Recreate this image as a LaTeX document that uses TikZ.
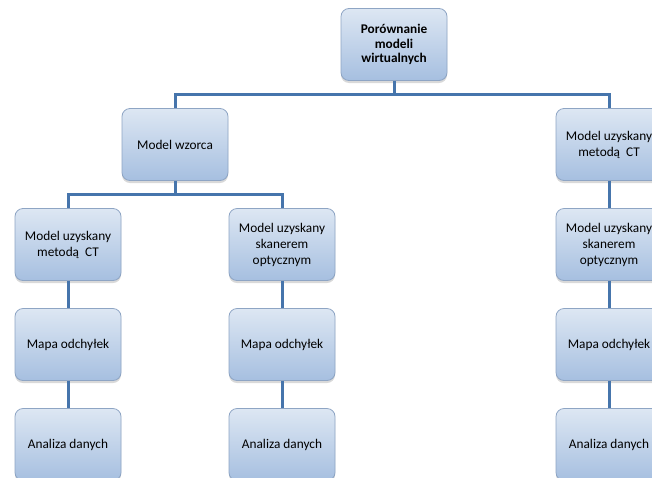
\documentclass[tikz,border=0pt]{standalone}
\usepackage{fontspec}
\setmainfont{Carlito}
\usetikzlibrary{shadows}
\definecolor{boxtop}{HTML}{DDE7F3}
\definecolor{boxbot}{HTML}{A6BFE0}
\definecolor{boxedge}{HTML}{8EA5C4}
\definecolor{linkblue}{HTML}{4675AC}
\tikzset{
  card/.style={rectangle, rounded corners=8pt, minimum width=106pt, minimum height=72pt,
    top color=boxtop, bottom color=boxbot, draw=boxedge, line width=0.8pt,
    align=center, text=black, inner sep=2pt,
    font=\fontsize{13.3}{16}\selectfont,
    drop shadow={opacity=0.3, shadow xshift=0pt, shadow yshift=-2.5pt}},
  headcard/.style={card, font=\fontsize{13.3}{14.3}\selectfont\bfseries},
  link/.style={draw=linkblue, line width=3pt}
}
\begin{document}
\begin{tikzpicture}[x=1pt, y=-1pt]
  \useasboundingbox (0,0) rectangle (652,477);
  % boxes
  \node[headcard] (top) at (394,44.5) {Porównanie\\modeli\\wirtualnych};
  \node[card] (ref)  at (175,144.5) {Model wzorca};
  \node[card] (ctR)  at (609,144.5) {Model uzyskany\\metodą\ \ CT};
  \node[card] (ctL)  at (68,244.5)  {Model uzyskany\\metodą\ \ CT};
  \node[card] (optL) at (282,244.5) {Model uzyskany\\skanerem\\optycznym};
  \node[card] (optR) at (609,244.5) {Model uzyskany\\skanerem\\optycznym};
  \node[card] (mapA) at (68,344.5)  {Mapa odchyłek};
  \node[card] (mapB) at (282,344.5) {Mapa odchyłek};
  \node[card] (mapC) at (609,344.5) {Mapa odchyłek};
  \node[card] (datA) at (68,444.5)  {Analiza danych};
  \node[card] (datB) at (282,444.5) {Analiza danych};
  \node[card] (datC) at (609,444.5) {Analiza danych};
  % branch points
  \coordinate (hubTop) at (394,94);
  \coordinate (hubRef) at (175,194);
  % connectors
  \draw[link] (top.south) -- (hubTop) -| (ref.north);
  \draw[link] (hubTop) -| (ctR.north);
  \draw[link] (ref.south) -- (hubRef) -| (ctL.north);
  \draw[link] (hubRef) -| (optL.north);
  \draw[link] (ctL.south) -- (mapA.north);
  \draw[link] (mapA.south) -- (datA.north);
  \draw[link] (optL.south) -- (mapB.north);
  \draw[link] (mapB.south) -- (datB.north);
  \draw[link] (ctR.south) -- (optR.north);
  \draw[link] (optR.south) -- (mapC.north);
  \draw[link] (mapC.south) -- (datC.north);
\end{tikzpicture}
\end{document}
